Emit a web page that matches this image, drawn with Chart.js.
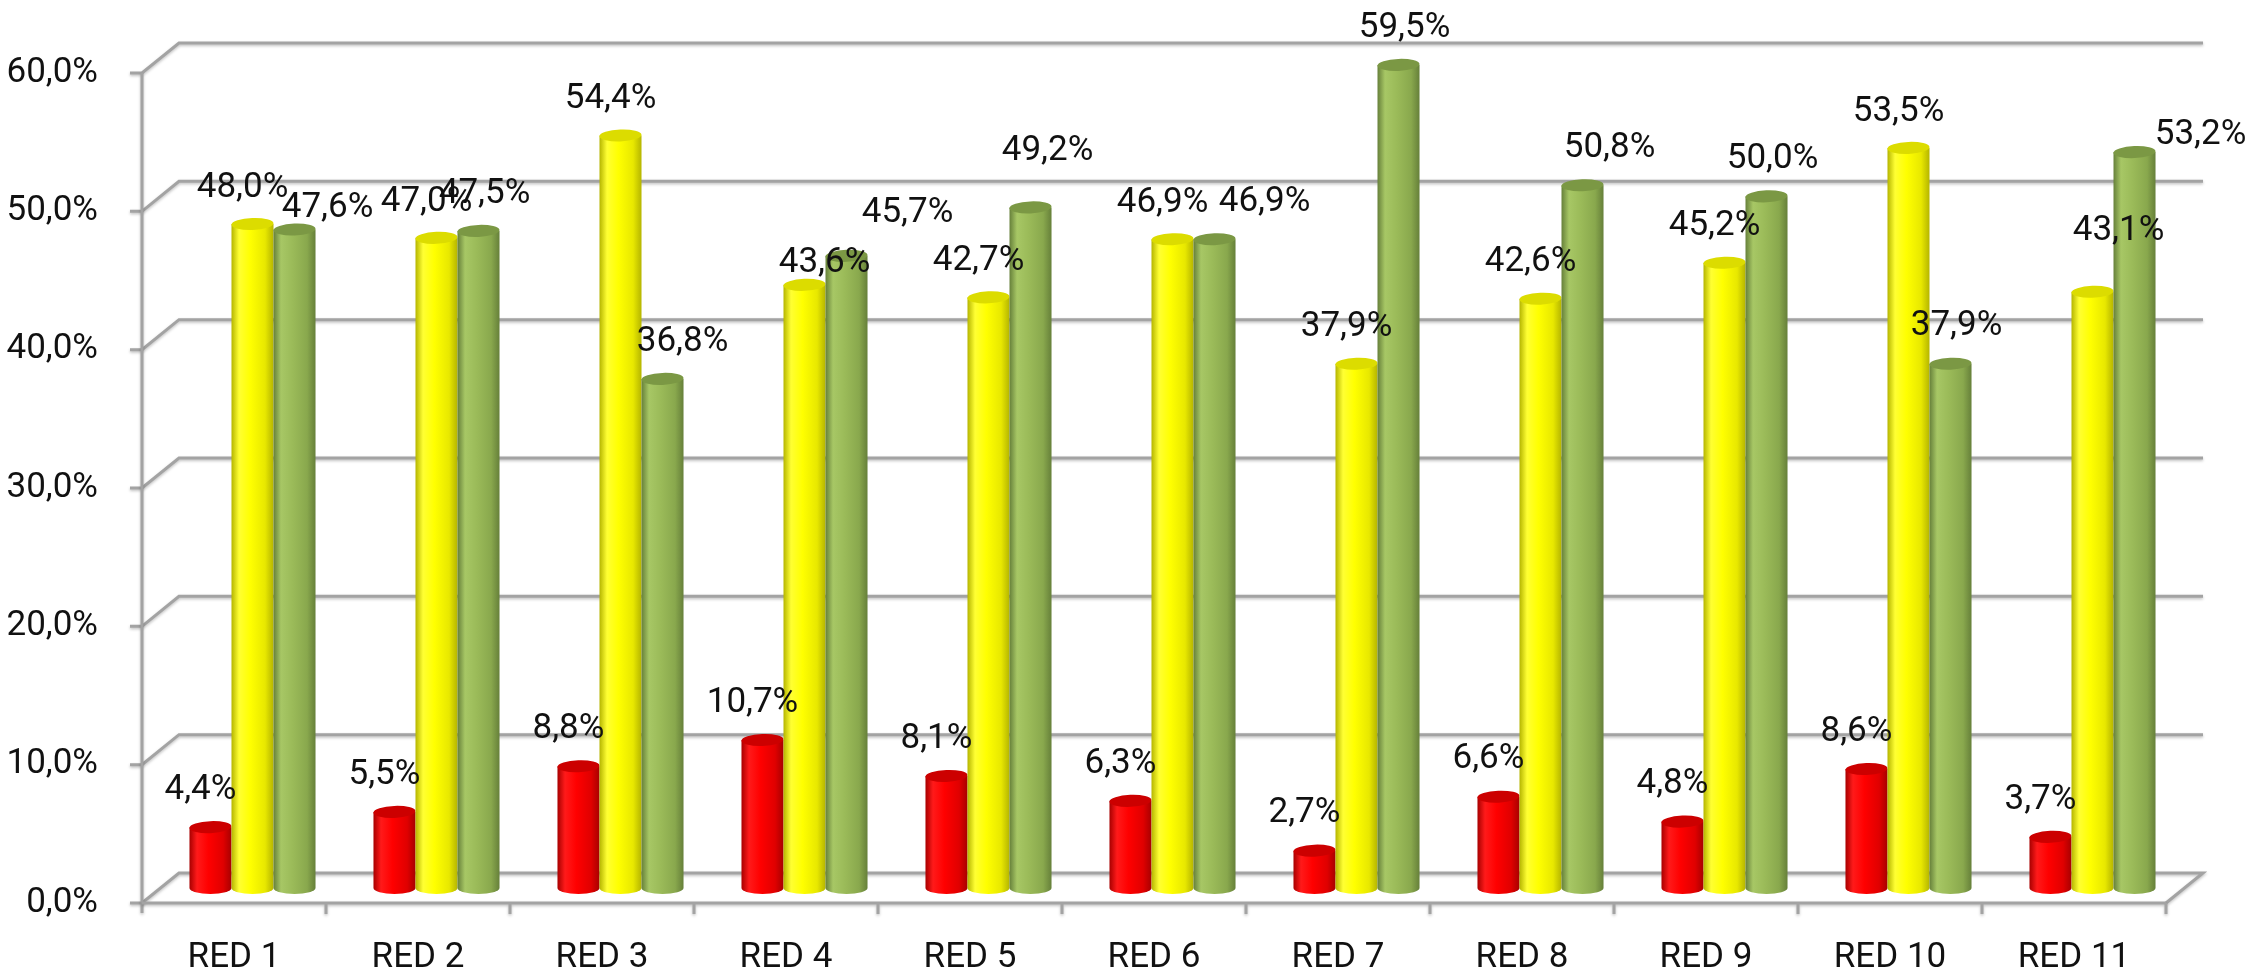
<!DOCTYPE html>
<html>
<head>
<meta charset="utf-8">
<script src="https://cdn.jsdelivr.net/npm/chart.js@4.4.1/dist/chart.umd.min.js"></script>
<style>
  html, body { margin: 0; padding: 0; background: #ffffff; }
  canvas { display: block; }
</style>
</head>
<body>
<canvas id="grafico" width="2256" height="970"></canvas>
<script>
// ---------- dados ----------
const categorias = ["RED 1", "RED 2", "RED 3", "RED 4", "RED 5", "RED 6", "RED 7", "RED 8", "RED 9", "RED 10", "RED 11"];
const serieVermelha = [4.4, 5.5, 8.8, 10.7, 8.1, 6.3, 2.7, 6.6, 4.8, 8.6, 3.7];
const serieAmarela  = [48.0, 47.0, 54.4, 43.6, 42.7, 46.9, 37.9, 42.6, 45.2, 53.5, 43.1];
const serieVerde    = [47.6, 47.5, 36.8, 45.7, 49.2, 46.9, 59.5, 50.8, 50.0, 37.9, 53.2];
const ticksY = [0, 10, 20, 30, 40, 50, 60];

// ---------- aparência ----------
const FONTE = "Roboto, 'Liberation Sans', sans-serif";
const TAM_FONTE = 35;
const PROF_X = 37;     // profundidade da caixa 3D
const PROF_Y = -30;
const COR_GRADE = "#a3a3a3";

const cores = [
  { escura: "#a80000", clara: "#ff1a1a", meio: "#ff0000", lado: "#e00000", topo: "#cc0000" },
  { escura: "#b5b500", clara: "#ffff33", meio: "#ffff00", lado: "#e8e800", topo: "#dcdc00" },
  { escura: "#66803a", clara: "#a7c765", meio: "#9bbb59", lado: "#89a84d", topo: "#7b9844" }
];

// deslocamento padrão do rótulo em relação ao topo do cilindro, por série
const rotuloPadrao = [[-10, -37], [-10, -36], [6, -37]];
// rótulos que foram arrastados no gráfico original (índice da série -> índice do ponto)
const rotuloAjuste = {
  1: { 3: [30, 14], 10: [36, -25] },
  2: { 0: [27, 16], 2: [14, 0], 3: [55, -6], 4: [11, -19], 5: [44, 0], 7: [21, 0], 10: [60, 20] }
};

function fmt(v) {
  return v.toFixed(1).replace(".", ",") + "%";
}

// grade 3D: parede lateral, parede do fundo e piso
const grade3d = {
  id: "grade3d",
  beforeDatasetsDraw(chart) {
    const ctx = chart.ctx;
    const y = chart.scales.y;
    const area = chart.chartArea;
    ctx.save();
    ctx.strokeStyle = COR_GRADE;
    ctx.lineWidth = 3;
    ctx.lineCap = "butt";
    ctx.shadowColor = "rgba(0,0,0,0.25)";
    ctx.shadowBlur = 3;
    ctx.shadowOffsetY = 1.5;

    ticksY.forEach(v => {
      const py = y.getPixelForValue(v);
      ctx.beginPath();
      ctx.moveTo(area.left - 12, py);
      ctx.lineTo(area.left, py);
      ctx.lineTo(area.left + PROF_X, py + PROF_Y);
      ctx.lineTo(area.right + PROF_X, py + PROF_Y);
      if (v === 0) {
        ctx.lineTo(area.right, py);
      }
      ctx.stroke();
    });

    // eixo vertical
    ctx.beginPath();
    ctx.moveTo(area.left, y.getPixelForValue(60));
    ctx.lineTo(area.left, area.bottom + 10);
    ctx.stroke();

    // linha frontal do piso e marcas das categorias
    ctx.beginPath();
    ctx.moveTo(area.left, area.bottom);
    ctx.lineTo(area.right, area.bottom);
    const passo = (area.right - area.left) / categorias.length;
    for (let k = 1; k <= categorias.length; k++) {
      const px = area.left + passo * k;
      ctx.moveTo(px, area.bottom);
      ctx.lineTo(px, area.bottom + 11);
    }
    ctx.stroke();
    ctx.restore();
  }
};

function cilindro(ctx, cx, w, topo, base, c) {
  const rx = w / 2;
  const ry = 6;
  const esq = cx - rx;
  const dir = cx + rx;

  const grad = ctx.createLinearGradient(esq, 0, dir, 0);
  grad.addColorStop(0, c.escura);
  grad.addColorStop(0.18, c.clara);
  grad.addColorStop(0.45, c.meio);
  grad.addColorStop(0.8, c.lado);
  grad.addColorStop(1, c.escura);

  ctx.beginPath();
  ctx.moveTo(esq, topo);
  ctx.lineTo(esq, base);
  ctx.ellipse(cx, base, rx, ry, 0, Math.PI, 0, true);
  ctx.lineTo(dir, topo);
  ctx.closePath();
  ctx.fillStyle = grad;
  ctx.fill();

  ctx.beginPath();
  ctx.ellipse(cx, topo, rx, ry, -0.04, 0, Math.PI * 2);
  ctx.fillStyle = c.topo;
  ctx.fill();
}

// cilindros e rótulos, posicionados a meia profundidade da caixa
const cilindros3d = {
  id: "cilindros3d",
  afterDatasetsDraw(chart) {
    const ctx = chart.ctx;
    const meioX = PROF_X / 2;
    const meioY = PROF_Y / 2;
    ctx.save();
    chart.data.datasets.forEach((ds, s) => {
      const meta = chart.getDatasetMeta(s);
      meta.data.forEach(bar => {
        const p = bar.getProps(["x", "y", "base", "width"], true);
        cilindro(ctx, p.x + meioX, p.width, p.y + meioY, p.base + meioY, cores[s]);
      });
    });

    ctx.font = TAM_FONTE + "px " + FONTE;
    ctx.fillStyle = "#111111";
    ctx.textAlign = "center";
    ctx.textBaseline = "middle";
    chart.data.datasets.forEach((ds, s) => {
      const meta = chart.getDatasetMeta(s);
      meta.data.forEach((bar, i) => {
        const p = bar.getProps(["x", "y"], true);
        let dx = rotuloPadrao[s][0];
        let dy = rotuloPadrao[s][1];
        const aj = rotuloAjuste[s] && rotuloAjuste[s][i];
        if (aj) { dx += aj[0]; dy += aj[1]; }
        ctx.fillText(fmt(ds.data[i]), p.x + meioX + dx, p.y + meioY + dy);
      });
    });
    ctx.restore();
  }
};

new Chart(document.getElementById("grafico"), {
  type: "bar",
  data: {
    labels: categorias,
    datasets: [
      { label: "vermelho", data: serieVermelha },
      { label: "amarelo", data: serieAmarela },
      { label: "verde", data: serieVerde }
    ].map(d => Object.assign(d, { backgroundColor: "rgba(0,0,0,0)", borderWidth: 0 }))
  },
  options: {
    responsive: false,
    animation: false,
    devicePixelRatio: 1,
    categoryPercentage: 0.685,
    barPercentage: 1,
    layout: { padding: { top: 73, right: 90, bottom: 0, left: 0 } },
    plugins: {
      legend: { display: false },
      tooltip: { enabled: false }
    },
    scales: {
      x: {
        grid: { display: false },
        border: { display: false },
        ticks: {
          color: "#111111",
          font: { family: FONTE, size: TAM_FONTE },
          padding: 26,
          maxRotation: 0
        },
        afterFit(scale) { scale.height = 67; }
      },
      y: {
        min: 0,
        max: 60,
        grid: { display: false },
        border: { display: false },
        ticks: {
          stepSize: 10,
          color: "#111111",
          font: { family: FONTE, size: TAM_FONTE },
          padding: 36,
          callback: v => fmt(v)
        },
        afterFit(scale) { scale.width = 142; }
      }
    }
  },
  plugins: [grade3d, cilindros3d]
});
</script>
</body>
</html>
